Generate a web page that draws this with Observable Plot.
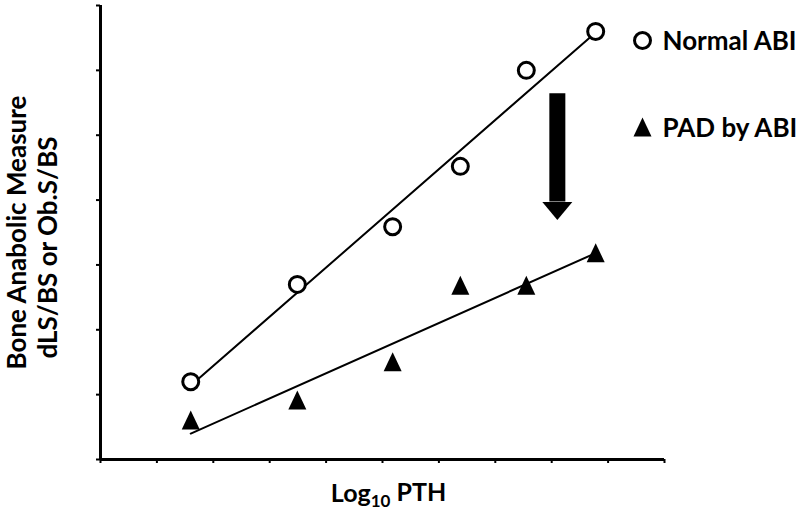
<!DOCTYPE html>
<html>
<head>
<meta charset="utf-8">
<script src="https://cdn.jsdelivr.net/npm/d3@7"></script>
<script src="https://cdn.jsdelivr.net/npm/@observablehq/plot@0.6"></script>
<style>
  html, body { margin: 0; padding: 0; background: #fff; }
</style>
</head>
<body>
<div id="chart"></div>
<script>
// ---- data ----
const pthLog = [1.6, 3.49, 5.18, 6.38, 7.55, 8.78];
const normalABI = [1.20, 2.70, 3.59, 4.52, 6.00, 6.60];
const padABI = [0.60, 0.91, 1.50, 2.68, 2.68, 3.18];

// fitted trend lines (end points)
const fitX = [1.6, 8.8];
const fitNormal = [1.14, 6.60];
const fitPAD = [0.40, 3.19];

// arrow showing reduction
const arrowX = 8.1;
const arrowTop = 5.64;
const arrowHeadBase = 3.97;

const xTickValues = [0, 1, 2, 3, 4, 5, 6, 7, 8, 9, 10];
const yTickValues = [0, 1, 2, 3, 4, 5, 6, 7];

const seriesNames = ["Normal ABI", "PAD by ABI"];
const yTitle = ["Bone Anabolic Measure", "dLS/BS or Ob.S/BS"];
const xTitleParts = ["Log", "10", " PTH"];

// ---- build tables ----
const normalPts = pthLog.map((x, i) => ({x, y: normalABI[i]}));
const padPts = pthLog.map((x, i) => ({x, y: padABI[i]}));
const normalLine = fitX.map((x, i) => ({x, y: fitNormal[i]}));
const padLine = fitX.map((x, i) => ({x, y: fitPAD[i]}));

const triangle = {
  draw(ctx) {
    ctx.moveTo(0, -10);
    ctx.lineTo(9, 9);
    ctx.lineTo(-9, 9);
    ctx.closePath();
  }
};
const arrowHead = {
  draw(ctx) {
    ctx.moveTo(-15, 0);
    ctx.lineTo(15, 0);
    ctx.lineTo(0, 18);
    ctx.closePath();
  }
};

const font = {fontFamily: "Lato", fontWeight: "bold", fill: "black"};

const svg = Plot.plot({
  width: 812,
  height: 510,
  marginLeft: 100,
  marginRight: 148,
  marginTop: 5,
  marginBottom: 51,
  x: {domain: [0, 10]},
  y: {domain: [0, 7]},
  style: {background: "white", fontFamily: "Lato"},
  marks: [
    Plot.axisX({ticks: xTickValues, tickFormat: () => "", tickSize: 4, strokeWidth: 2, label: null}),
    Plot.axisY({ticks: yTickValues, tickFormat: () => "", tickSize: 4, strokeWidth: 2, label: null}),
    Plot.ruleX([0], {stroke: "black", strokeWidth: 3}),
    Plot.ruleY([0], {stroke: "black", strokeWidth: 3}),
    Plot.line(normalLine, {x: "x", y: "y", stroke: "black", strokeWidth: 2}),
    Plot.line(padLine, {x: "x", y: "y", stroke: "black", strokeWidth: 2}),
    Plot.dot(normalPts, {x: "x", y: "y", r: 8, stroke: "black", strokeWidth: 3, fill: "white"}),
    Plot.dot(padPts, {x: "x", y: "y", symbol: triangle, fill: "black", stroke: "none"}),
    // arrow
    Plot.ruleX([arrowX], {x: d => d, y1: arrowTop, y2: arrowHeadBase, stroke: "black", strokeWidth: 16, strokeLinecap: "butt"}),
    Plot.dot([arrowX], {x: d => d, y: arrowHeadBase, symbol: arrowHead, fill: "black", stroke: "none"}),
    // legend
    Plot.dot([seriesNames[0]], {frameAnchor: "top-right", dx: -22, dy: 35, r: 8, stroke: "black", strokeWidth: 3, fill: "white"}),
    Plot.text([seriesNames[0]], {text: d => d, frameAnchor: "top-right", dx: -2, dy: 36, textAnchor: "start", lineAnchor: "middle", fontSize: 26, ...font}),
    Plot.dot([seriesNames[1]], {frameAnchor: "top-right", dx: -22, dy: 122, symbol: triangle, fill: "black", stroke: "none"}),
    Plot.text([seriesNames[1]], {text: d => d, frameAnchor: "top-right", dx: -2, dy: 123, textAnchor: "start", lineAnchor: "middle", fontSize: 26, ...font}),
    // axis titles
    Plot.text([yTitle[0]], {text: d => d, frameAnchor: "left", dx: -83, dy: 0, rotate: -90, textAnchor: "middle", lineAnchor: "middle", fontSize: 26, ...font}),
    Plot.text([yTitle[1]], {text: d => d, frameAnchor: "left", dx: -52, dy: 15, rotate: -90, textAnchor: "middle", lineAnchor: "middle", fontSize: 26, ...font}),
    Plot.text([xTitleParts.join("")], {text: d => d, frameAnchor: "bottom", dx: 6, dy: 34, textAnchor: "middle", lineAnchor: "middle", fontSize: 25, ...font})
  ]
});

// subscript in x title
const joined = xTitleParts.join("");
d3.select(svg).selectAll("text").filter(function() { return this.textContent === joined; }).each(function() {
  const t = d3.select(this);
  t.text(null);
  t.append("tspan").text(xTitleParts[0]);
  t.append("tspan").attr("font-size", "0.68em").attr("dy", "0.35em").text(xTitleParts[1]);
  t.append("tspan").attr("dy", "-0.24em").text(xTitleParts[2]);
});

document.getElementById("chart").appendChild(svg);
</script>
</body>
</html>
